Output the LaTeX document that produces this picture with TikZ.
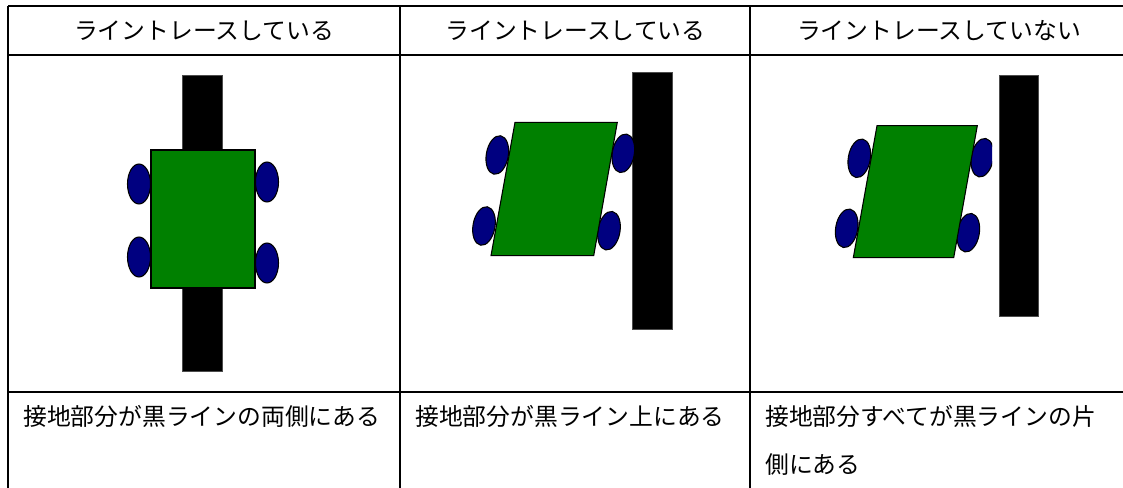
\documentclass[tikz,border=0pt]{standalone}
\usepackage{fontspec}
\newfontfamily\jp{Noto Sans CJK JP}
\definecolor{body}{RGB}{0,128,0}
\definecolor{wheelc}{RGB}{0,0,128}
\begin{document}
\begin{tikzpicture}[x=0.75pt,y=-0.75pt,
  grid/.style={line width=1.5pt,black},
  track/.style={fill=black,draw=black!70,line width=0.4pt},
  chassis/.style={fill=body,draw=black,line width=0.8pt},
  wheel/.style={fill=wheelc,draw=black,line width=0.8pt},
  head/.style={font=\jp\fontsize{17.85}{21}\selectfont,inner sep=0pt,anchor=center},
  desc/.style={font=\jp\fontsize{17.85}{36}\selectfont,inner sep=0pt,anchor=north west,align=left}]
\useasboundingbox (0,0) rectangle (1123,488);
\begin{scope}
\clip (0,0) rectangle (1123,488);
% table grid
\draw[grid] (8,6) -- (1130,6);
\draw[grid] (8,55) -- (1130,55);
\draw[grid] (8,392) -- (1130,392);
\draw[grid] (8,6) -- (8,495);
\draw[grid] (400,6) -- (400,495);
\draw[grid] (750,6) -- (750,495);
\end{scope}
% headers
\node[head] (h1) at (204,31) {ライントレースしている};
\node[head] (h2) at (575.5,31) {ライントレースしている};
\node[head] (h3) at (939,31) {ライントレースしていない};
% descriptions
\node[desc] (d1) at (23,405) {接地部分が黒ラインの両側にある};
\node[desc] (d2) at (415,405) {接地部分が黒ライン上にある};
\node[desc] (d3) at (765,405) {接地部分すべてが黒ラインの片\\側にある};
% panel 1
\draw[track] (182.5,75) rectangle (222.5,371);
\draw[wheel] (139,184) ellipse (11.5 and 20);
\draw[wheel] (139,257) ellipse (11.5 and 20);
\draw[wheel] (267,182) ellipse (11.5 and 20);
\draw[wheel] (267,263) ellipse (11.5 and 20);
\draw[chassis] (151,150) rectangle (255,288);
% panel 2
\draw[track] (632.7,72.7) rectangle (672.7,329.7);
\draw[wheel,rotate around={-10:(497.3,155)}] (497.3,155) ellipse (11 and 19.5);
\draw[wheel,rotate around={-10:(484,226)}] (484,226) ellipse (11 and 19.5);
\draw[wheel,rotate around={-10:(623.3,153.3)}] (623.3,153.3) ellipse (11 and 19.5);
\draw[wheel,rotate around={-10:(609,230.7)}] (609,230.7) ellipse (11 and 19.5);
\draw[chassis] (515,122.3) -- (617.3,122.3) -- (593.7,255.7) -- (491,255.7) -- cycle;
% panel 3
\draw[track] (999,75.7) rectangle (1038,316.7);
\draw[wheel,rotate around={-10:(859.3,158.3)}] (859.3,158.3) ellipse (11 and 19.5);
\draw[wheel,rotate around={-10:(846.7,228.3)}] (846.7,228.3) ellipse (11 and 19.5);
\begin{scope}
\clip (900,100) rectangle (992,300);
\draw[wheel,rotate around={-10:(982.3,157.7)}] (982.3,157.7) ellipse (11 and 19.5);
\end{scope}
\draw[wheel,rotate around={-10:(968.3,232.7)}] (968.3,232.7) ellipse (11 and 19.5);
\draw[chassis] (877,125.7) -- (977.3,125.7) -- (953.7,257.7) -- (853.3,257.7) -- cycle;
\end{tikzpicture}
\end{document}
